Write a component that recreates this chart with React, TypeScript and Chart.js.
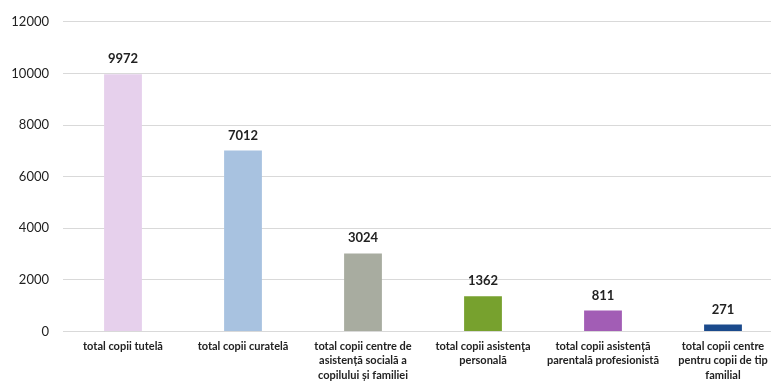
import React, { useEffect, useRef } from "react";
import { Chart, registerables } from "chart.js";

Chart.register(...registerables);

const categories: string[][] = [
  ["total copii tutelă"],
  ["total copii curatelă"],
  ["total copii centre de", "asistență socială a", "copilului și familiei"],
  ["total copii asistenţa", "personală"],
  ["total copii asistență", "parentală profesionistă"],
  ["total copii centre", "pentru copii de tip", "familial"],
];
const values: number[] = [9972, 7012, 3024, 1362, 811, 271];
const barColors: string[] = ["#e6d0ec", "#a8c2e0", "#a8aca0", "#77a12e", "#a25db5", "#1b4a8c"];
const yMin = 0;
const yMax = 12000;
const yStep = 2000;

const valueLabels = {
  id: "valueLabels",
  afterDatasetsDraw(chart: any) {
    const ctx = chart.ctx;
    const meta = chart.getDatasetMeta(0);
    ctx.save();
    ctx.font = "bold 13px Lato";
    ctx.fillStyle = "#222";
    ctx.textAlign = "center";
    ctx.textBaseline = "alphabetic";
    meta.data.forEach((bar: any, i: number) => {
      ctx.fillText(String(values[i]), bar.x, bar.y - 11);
    });
    ctx.restore();
  },
};

export default function App() {
  const ref = useRef<HTMLCanvasElement>(null);
  useEffect(() => {
    if (!ref.current) return;
    const chart = new Chart(ref.current, {
      type: "bar",
      data: {
        labels: categories,
        datasets: [
          {
            data: values,
            backgroundColor: barColors,
            barPercentage: 0.63,
            categoryPercentage: 0.5,
          },
        ],
      },
      options: {
        responsive: false,
        animation: false,
        devicePixelRatio: 1,
        layout: { padding: { top: 21, right: 7, left: 0, bottom: 0 } },
        plugins: { legend: { display: false }, tooltip: { enabled: false } },
        scales: {
          x: {
            grid: { display: false, drawTicks: false },
            border: { display: false },
            ticks: {
              color: "#222",
              font: { family: "Lato", size: 11, weight: "bold", lineHeight: 1.3 },
              padding: 8,
              maxRotation: 0,
              autoSkip: false,
            },
            afterFit: (s: any) => {
              s.height = 49.5;
            },
          },
          y: {
            min: yMin,
            max: yMax,
            grid: { color: "#d9d9d9", lineWidth: 1, drawTicks: false },
            border: { display: false },
            ticks: {
              stepSize: yStep,
              color: "#222",
              font: { family: "Lato", size: 13 },
              padding: 14,
              callback: (v: any) => String(v),
            },
            afterFit: (s: any) => {
              s.width = 63;
            },
          },
        },
      },
      plugins: [valueLabels],
    });
    return () => chart.destroy();
  }, []);
  return (
    <div
      style={{
        position: "absolute",
        left: 0,
        top: 0,
        width: 771,
        height: 381,
        overflow: "hidden",
        background: "#fff",
      }}
    >
      <canvas ref={ref} width={790} height={381} style={{ display: "block" }} />
    </div>
  );
}
